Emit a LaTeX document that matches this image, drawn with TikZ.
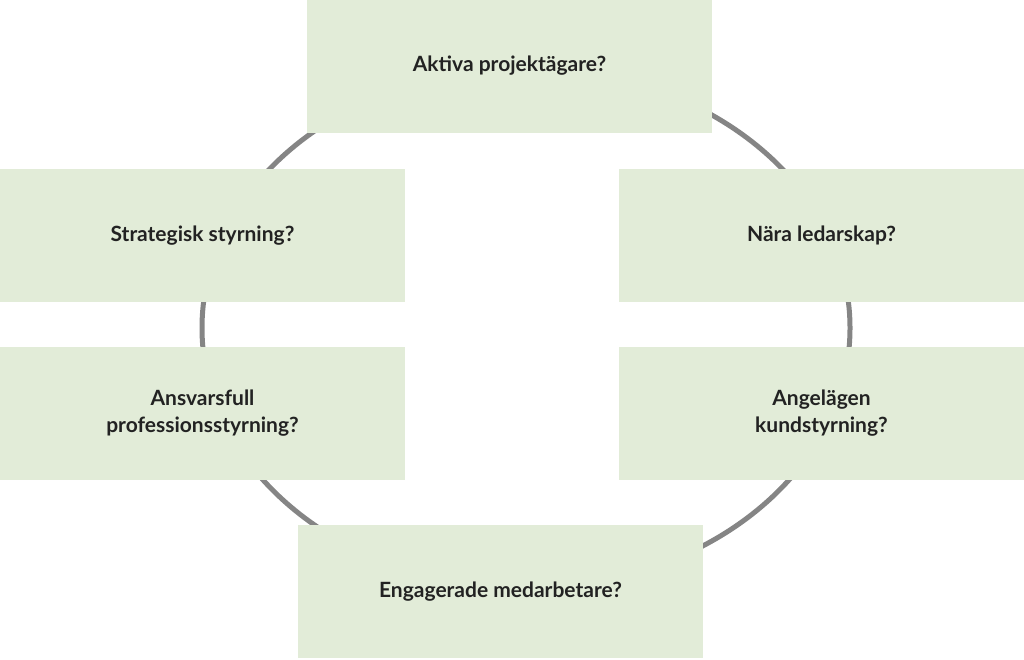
\documentclass[tikz,border=0pt]{standalone}
\usepackage{fontspec}
\setmainfont{Lato}
\definecolor{boxg}{HTML}{E2ECD8}
\definecolor{ring}{HTML}{858585}
\definecolor{txt}{HTML}{222222}
\begin{document}
\begin{tikzpicture}[x=1pt,y=-1pt,
  qbox/.style={fill=boxg,minimum width=405pt,minimum height=133pt,inner sep=0pt,align=center,font=\fontsize{21}{27}\selectfont\bfseries,text=txt}]
\useasboundingbox (0,0) rectangle (1024,659);
\draw[ring,line width=5pt] (526,328) ellipse [x radius=324, y radius=260];
\node[qbox] (a) at (509.5,66) {Aktiva projektägare?};
\node[qbox] (s) at (202.5,235.5) {Strategisk styrning?};
\node[qbox] (n) at (821.5,235.5) {Nära ledarskap?};
\node[qbox] (p) at (202.5,413.5) {Ansvarsfull\\professionsstyrning?};
\node[qbox] (k) at (821.5,413.5) {Angelägen\\kundstyrning?};
\node[qbox] (e) at (500.5,591.5) {Engagerade medarbetare?};
\end{tikzpicture}
\end{document}
